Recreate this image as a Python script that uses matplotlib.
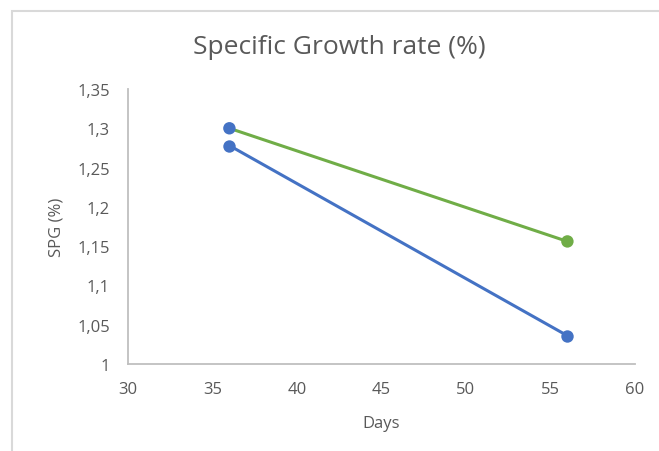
import matplotlib
matplotlib.use("Agg")
import matplotlib.pyplot as plt
from matplotlib.ticker import FuncFormatter, MultipleLocator
from matplotlib.patches import Rectangle

plt.rcParams['font.family'] = ['Open Sans', 'DejaVu Sans']

days = [36, 56]
spg_green = [1.300, 1.156]
spg_blue = [1.278, 1.036]
green_marker_colors = ['#4472c4', '#70ad47']

title = "Specific Growth rate (%)"
x_label = "Days"
y_label = "SPG (%)"

GREEN = '#70ad47'
BLUE = '#4472c4'
TEXT = '#595959'
AXIS = '#bfbfbf'
FRAME = '#d9d9d9'

fig = plt.figure(figsize=(6.59, 4.52), dpi=100)
fig.patch.set_facecolor('white')

# chart-area border (runs off the right and bottom edges)
fig.add_artist(Rectangle((12 / 659, -0.1), 1.2, 1 - 12 / 452 + 0.1,
                         transform=fig.transFigure, fill=False,
                         edgecolor=FRAME, linewidth=1.5))

ax = fig.add_axes([128 / 659, 1 - 365 / 452, (635 - 128) / 659, (365 - 90) / 452])

ax.plot(days, spg_green, color=GREEN, linewidth=2.2, solid_capstyle='round', zorder=2)
ax.plot(days, spg_blue, color=BLUE, linewidth=2.2, solid_capstyle='round', zorder=2)
ax.scatter(days, spg_green, s=80, c=green_marker_colors, zorder=3, linewidths=0)
ax.scatter(days, spg_blue, s=80, c=BLUE, zorder=3, linewidths=0)

ax.set_xlim(30, 60)
ax.set_ylim(1.0, 1.35)
ax.xaxis.set_major_locator(MultipleLocator(5))
ax.yaxis.set_major_locator(MultipleLocator(0.05))
ax.yaxis.set_major_formatter(FuncFormatter(lambda v, p: '{:g}'.format(round(v, 2)).replace('.', ',')))

for side in ('top', 'right'):
    ax.spines[side].set_visible(False)
for side in ('left', 'bottom'):
    ax.spines[side].set_color(AXIS)
    ax.spines[side].set_linewidth(1.3)

ax.tick_params(axis='both', length=0, labelsize=12, labelcolor=TEXT)
ax.tick_params(axis='y', pad=13)
ax.tick_params(axis='x', pad=12)

ax.set_xlabel(x_label, fontsize=12, color=TEXT, labelpad=13)
ax.set_ylabel(y_label, fontsize=12, color=TEXT, labelpad=9)

fig.text(339 / 659, 1 - 47 / 452, title, ha='center', va='center',
         fontsize=19, color=TEXT)

fig.savefig('out.png', dpi=100)
